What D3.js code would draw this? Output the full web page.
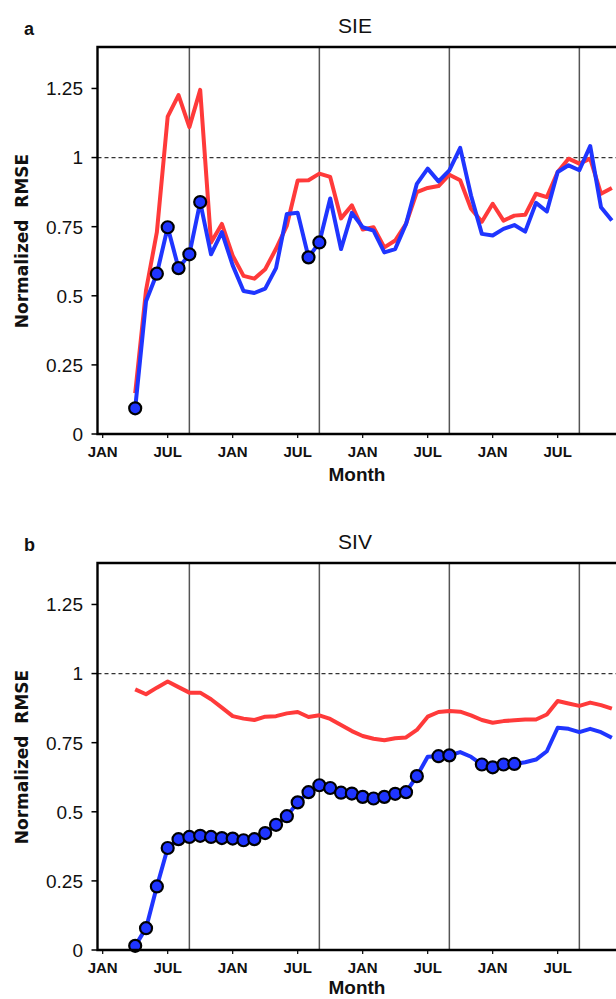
<!DOCTYPE html>
<html>
<head>
<meta charset="utf-8">
<script src="https://cdn.jsdelivr.net/npm/d3@7"></script>
<style>
  body { margin: 0; background: #fff; }
  text { font-family: "Liberation Sans", Arial, sans-serif; fill: #111; }
</style>
</head>
<body>
<div id="chart"></div>
<script>
// month index 0 = first JAN on the axis; data run from APR (3) to DEC of year 4 (47)
const startMonth = 3;
const tickMonths = [0, 6, 12, 18, 24, 30, 36, 42];
const tickLabels = ['JAN', 'JUL', 'JAN', 'JUL', 'JAN', 'JUL', 'JAN', 'JUL'];
const sepLines = [8, 20, 32, 44];
const yTicks = [0, 0.25, 0.5, 0.75, 1, 1.25];

const sieBlue = [0.093, 0.48, 0.58, 0.748, 0.60, 0.65, 0.839, 0.65, 0.73, 0.61, 0.517, 0.51, 0.526, 0.60,
  0.796, 0.80, 0.639, 0.693, 0.852, 0.669, 0.80, 0.748, 0.736, 0.657, 0.669, 0.76, 0.905, 0.96, 0.914,
  0.954, 1.035, 0.863, 0.724, 0.718, 0.742, 0.756, 0.732, 0.836, 0.805, 0.948, 0.972, 0.954, 1.042, 0.82, 0.772];
const sieRed = [0.148, 0.52, 0.73, 1.148, 1.226, 1.11, 1.245, 0.693, 0.76, 0.645, 0.572, 0.562, 0.596, 0.67,
  0.754, 0.917, 0.918, 0.942, 0.93, 0.78, 0.827, 0.74, 0.748, 0.675, 0.70, 0.76, 0.875, 0.89, 0.897,
  0.938, 0.918, 0.815, 0.768, 0.833, 0.772, 0.79, 0.793, 0.869, 0.857, 0.948, 0.996, 0.978, 0.996, 0.869, 0.89];
const sieDots = [3, 5, 6, 7, 8, 9, 19, 20];

const sivBlue = [0.015, 0.079, 0.23, 0.369, 0.401, 0.409, 0.413, 0.409, 0.405, 0.403, 0.397, 0.401, 0.423,
  0.453, 0.484, 0.534, 0.571, 0.596, 0.586, 0.569, 0.566, 0.554, 0.548, 0.554, 0.565, 0.571, 0.629, 0.699,
  0.701, 0.704, 0.716, 0.699, 0.671, 0.661, 0.671, 0.673, 0.679, 0.689, 0.719, 0.804, 0.80, 0.788, 0.80, 0.788, 0.768];
const sivRed = [0.943, 0.925, 0.949, 0.971, 0.951, 0.931, 0.931, 0.907, 0.877, 0.846, 0.837, 0.832, 0.844,
  0.846, 0.856, 0.861, 0.843, 0.849, 0.836, 0.814, 0.792, 0.774, 0.764, 0.759, 0.766, 0.769, 0.796, 0.844,
  0.861, 0.865, 0.862, 0.849, 0.832, 0.822, 0.828, 0.831, 0.834, 0.834, 0.852, 0.901, 0.892, 0.883, 0.895, 0.886, 0.873];
const sivDots = [3, 4, 5, 6, 7, 8, 9, 10, 11, 12, 13, 14, 15, 16, 17, 18, 19, 20, 21, 22, 23, 24, 25, 26, 27, 28, 29,
  31, 32, 35, 36, 37, 38];

const width = 616, height = 999;
const blue = '#1f35ff', red = '#ff3a3a';

const svg = d3.select('#chart').append('svg')
  .attr('width', width).attr('height', height);

const x = d3.scaleLinear().domain([0, 48]).range([102.7, 102.7 + 48 * 10.833]);
const left = 97.5;

function drawPanel(top, bottom, letter, title, blueVals, redVals, dots) {
  const y = d3.scaleLinear().domain([0, 1.4]).range([bottom, top]);
  const g = svg.append('g');
  const toPts = vals => vals.map((v, i) => ({ m: startMonth + i, v }));
  const bluePts = toPts(blueVals), redPts = toPts(redVals);

  // september separators
  g.append('g').selectAll('line').data(sepLines).join('line')
    .attr('x1', d => x(d)).attr('x2', d => x(d))
    .attr('y1', y(1.4)).attr('y2', y(0))
    .attr('stroke', '#555').attr('stroke-width', 1.5);

  // reference line
  g.append('line')
    .attr('x1', left).attr('x2', width).attr('y1', y(1)).attr('y2', y(1))
    .attr('stroke', '#333').attr('stroke-width', 1.2).attr('stroke-dasharray', '4,3');

  const line = d3.line().x(d => x(d.m)).y(d => y(d.v));
  g.append('path').datum(redPts).attr('d', line)
    .attr('fill', 'none').attr('stroke', red).attr('stroke-width', 4).attr('stroke-linejoin', 'round');
  g.append('path').datum(bluePts).attr('d', line)
    .attr('fill', 'none').attr('stroke', blue).attr('stroke-width', 4).attr('stroke-linejoin', 'round');

  g.append('g').selectAll('circle').data(bluePts.filter(d => dots.includes(d.m))).join('circle')
    .attr('cx', d => x(d.m)).attr('cy', d => y(d.v)).attr('r', 6)
    .attr('fill', blue).attr('stroke', '#000').attr('stroke-width', 2.2);

  // frame: left, top, bottom
  g.append('path')
    .attr('d', `M${width + 5},${y(1.4)}H${left}V${y(0)}H${width + 5}`)
    .attr('fill', 'none').attr('stroke', '#000').attr('stroke-width', 2.4);

  // y axis ticks
  const yAxis = g.append('g').selectAll('g').data(yTicks).join('g');
  yAxis.append('line')
    .attr('x1', left - 6).attr('x2', left).attr('y1', d => y(d)).attr('y2', d => y(d))
    .attr('stroke', '#000').attr('stroke-width', 1.5);
  yAxis.append('text')
    .attr('x', 83).attr('y', d => y(d)).attr('dy', '0.36em')
    .attr('text-anchor', 'end').style('font-size', '19px')
    .text(d => d === 0 ? '0' : d3.format('~g')(d));

  // x axis ticks
  const xAxis = g.append('g').selectAll('g').data(tickMonths).join('g');
  xAxis.append('line')
    .attr('x1', d => x(d)).attr('x2', d => x(d)).attr('y1', y(0)).attr('y2', y(0) + 4)
    .attr('stroke', '#000').attr('stroke-width', 1.2);
  xAxis.append('text')
    .attr('x', d => x(d)).attr('y', y(0) + 23)
    .attr('text-anchor', 'middle').style('font-size', '15px').style('font-weight', 'bold')
    .text((d, i) => tickLabels[i]);

  g.append('text')
    .attr('x', 357).attr('y', Math.min(y(0) + 47, height - 5)).attr('text-anchor', 'middle')
    .style('font-size', '19px').style('font-weight', 'bold').text('Month');

  g.append('text')
    .attr('transform', `translate(28,${y(0) - 193}) rotate(-90)`)
    .attr('text-anchor', 'middle').style('white-space', 'pre')
    .style('font-family', '"DejaVu Sans", sans-serif')
    .style('font-size', '17px').style('font-weight', 'bold').text('Normalized  RMSE');

  g.append('text')
    .attr('x', 355).attr('y', top - 14).attr('text-anchor', 'middle')
    .style('font-size', '21px').text(title);
  g.append('text')
    .attr('x', 24).attr('y', top - 12)
    .style('font-size', '18px').style('font-weight', 'bold').text(letter);
}

drawPanel(47, 434, 'a', 'SIE', sieBlue, sieRed, sieDots);
drawPanel(563, 950, 'b', 'SIV', sivBlue, sivRed, sivDots);
</script>
</body>
</html>
